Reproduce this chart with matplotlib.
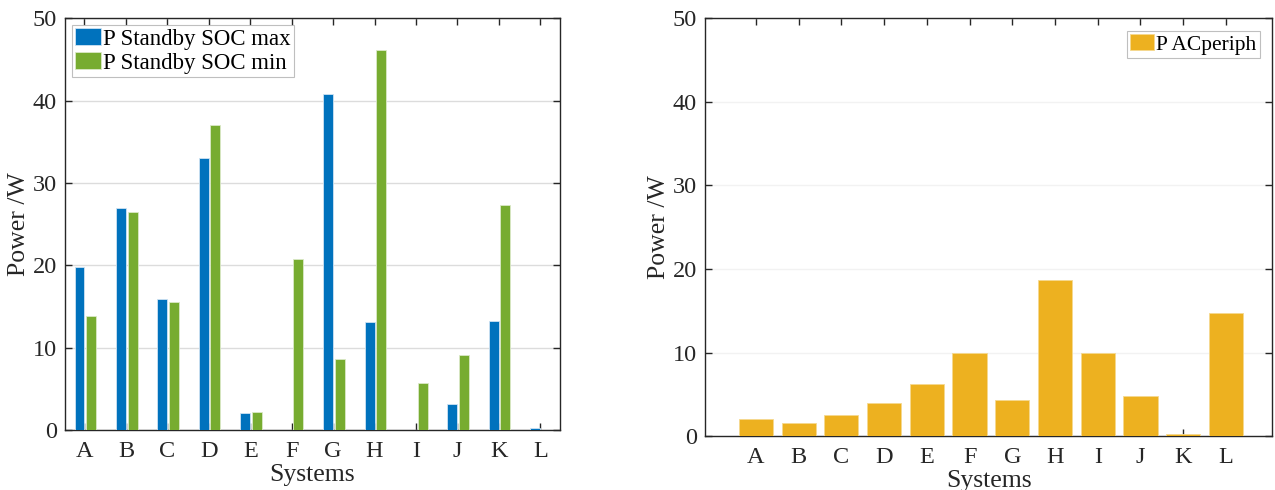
import matplotlib.pyplot as plt
import numpy as np

plt.rcParams['font.family'] = ['Liberation Serif', 'DejaVu Serif']

systems = ['A', 'B', 'C', 'D', 'E', 'F', 'G', 'H', 'I', 'J', 'K', 'L']
soc_max = [19.8, 27.0, 15.9, 33.0, 2.05, 0.0, 40.8, 13.1, 0.0, 3.15, 13.2, 0.25]
soc_min = [13.9, 26.5, 15.5, 37.0, 2.2, 20.8, 8.7, 46.1, 5.7, 9.1, 27.3, 0.05]
ac_periph = [2.07, 1.54, 2.48, 3.94, 6.26, 9.9, 4.35, 18.7, 10.0, 4.8, 0.28, 14.7]

blue = '#0072BD'
green = '#77AC30'
yellow = '#EDB120'

x = np.arange(len(systems))

fig = plt.figure(figsize=(12.75, 4.9), dpi=100)
ax1 = fig.add_axes([0.051, 0.122, 0.388, 0.841])
ax2 = fig.add_axes([0.553, 0.110, 0.445, 0.853])

# left: standby power at SOC max/min
ax1.bar(x - 0.12, soc_max, width=0.24, color=blue, edgecolor='#cfe3f3', linewidth=0.6,
        label='P Standby SOC max', zorder=3)
ax1.bar(x + 0.16, soc_min, width=0.24, color=green, edgecolor='#dbe9c8', linewidth=0.6,
        label='P Standby SOC min', zorder=3)
ax1.set_xlim(-0.47, 11.47)
ax1.set_ylim(0, 50)
ax1.yaxis.grid(True, color='#dcdcdc', linewidth=1, zorder=0)
leg1 = ax1.legend(loc='upper left', fontsize=16.5, fancybox=False, edgecolor='#b0b0b0',
                  handlelength=1.1, handleheight=0.75, handletextpad=0.1,
                  borderpad=0.15, labelspacing=0.1, borderaxespad=0.3)
leg1.get_frame().set_linewidth(0.8)

# right: AC peripherals
ax2.bar(x, ac_periph, width=0.8, color=yellow, edgecolor='#f5d98f', linewidth=0.6,
        label='P ACperiph', zorder=3)
ax2.set_xlim(-1.19, 12.09)
ax2.set_ylim(0, 50)
ax2.yaxis.grid(True, color='#f2f2f2', linewidth=1, zorder=0)
leg2 = ax2.legend(loc='upper right', fontsize=15.5, fancybox=False, edgecolor='#b0b0b0',
                  handlelength=1.1, handleheight=0.75, handletextpad=0.1,
                  borderpad=0.15, labelspacing=0.1, borderaxespad=0.6)
leg2.get_frame().set_linewidth(0.8)

for ax in (ax1, ax2):
    ax.set_xticks(x)
    ax.set_xticklabels(systems)
    ax.set_yticks(np.arange(0, 51, 10))
    ax.tick_params(direction='in', top=True, right=True, labelsize=17.5,
                   length=5, width=1, colors='#262626', labelcolor='#262626')
    ax.tick_params(axis='x', pad=8)
    ax.tick_params(axis='y', pad=6)
    ax.set_xlabel('Systems', fontsize=18.5, color='#262626', labelpad=1)
    ax.set_ylabel('Power /W', fontsize=18.5, color='#262626', labelpad=2)
    for s in ax.spines.values():
        s.set_color('#262626')
        s.set_linewidth(1)

fig.savefig('out.png', dpi=100)
